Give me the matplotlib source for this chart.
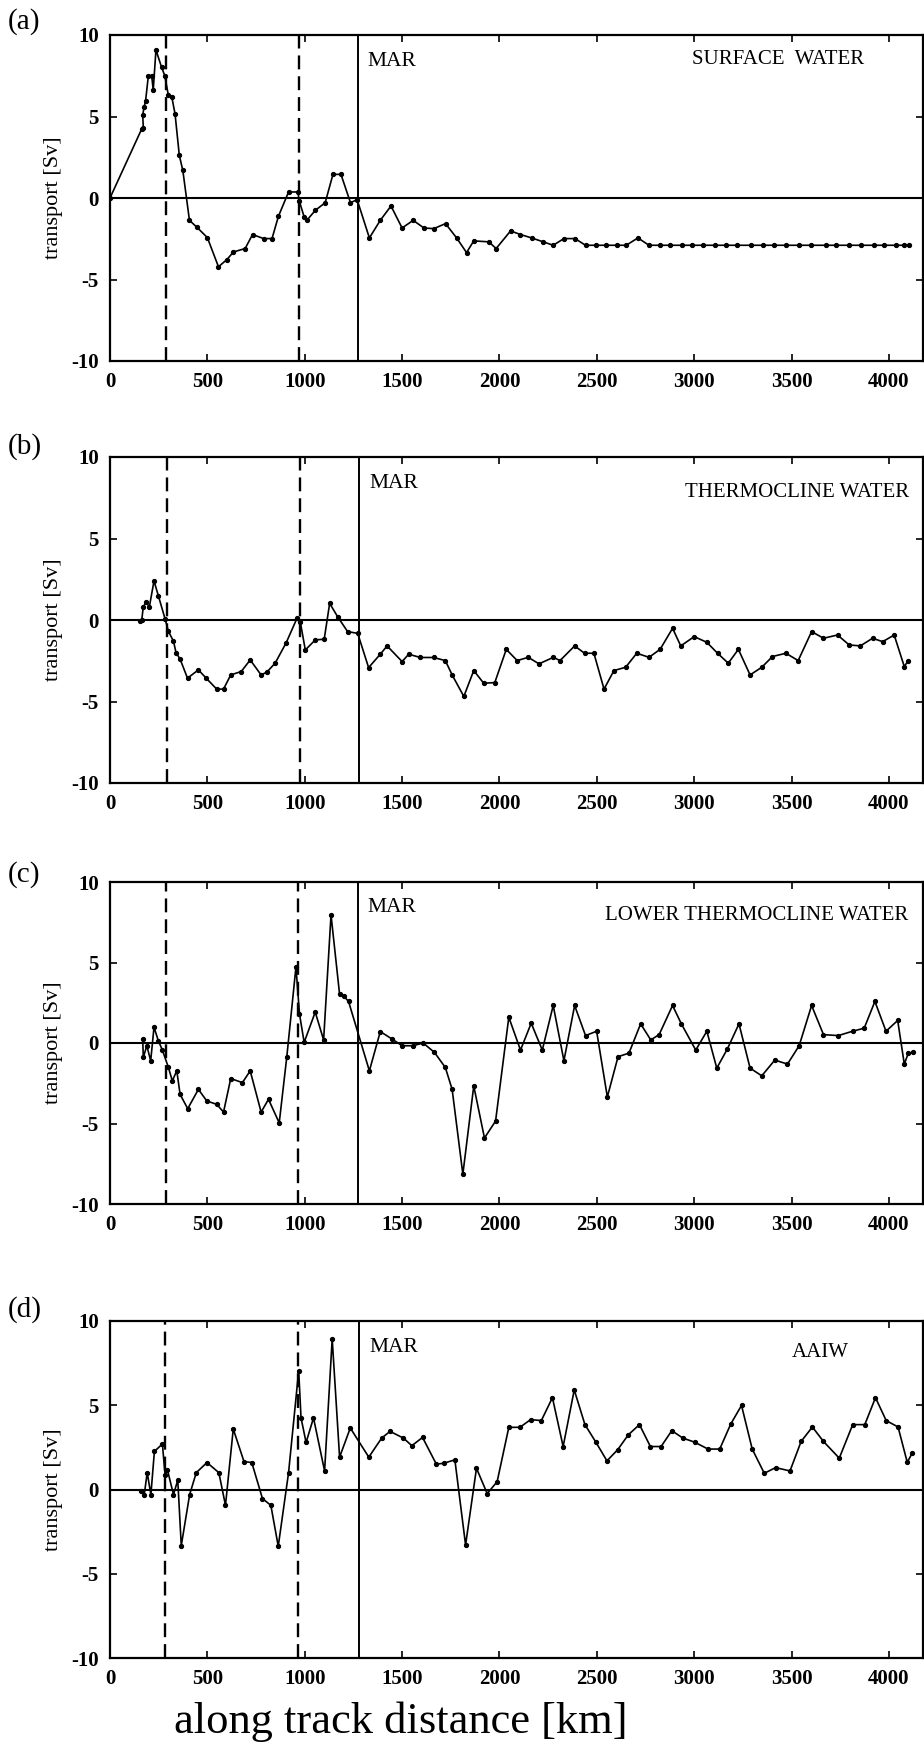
import numpy as np
import matplotlib
matplotlib.use("Agg")
import matplotlib.pyplot as plt

plt.rcParams["font.family"] = ["Liberation Serif", "DejaVu Serif"]
plt.rcParams["axes.unicode_minus"] = False
plt.rcParams["lines.scale_dashes"] = False

# (a) surface water
sw_km = [0, 163, 171, 168, 175, 183, 197, 214, 222, 236, 265, 281, 300, 317, 334,
         356, 374, 408, 445, 500, 557, 600, 634, 694, 732, 789, 832, 865, 917, 965,
         972, 997, 1011, 1054, 1105, 1145, 1186, 1235, 1269, 1332, 1388, 1443, 1500,
         1557, 1612, 1663, 1723, 1780, 1831, 1868, 1945, 1983, 2057, 2108, 2165, 2225,
         2276, 2331, 2388, 2442, 2494, 2545, 2605, 2651, 2711, 2768, 2824, 2876, 2936,
         2990, 3047, 3106, 3162, 3219, 3294, 3351, 3410, 3470, 3539, 3599, 3676, 3728,
         3796, 3856, 3921, 3976, 4036, 4079, 4105]
sw_sv = [0, 4.24, 4.3, 5.1, 5.57, 5.98, 7.51, 7.51, 6.63, 9.08, 8.02, 7.51, 6.29, 6.22, 5.16,
         2.61, 1.69, -1.37, -1.78, -2.43, -4.22, -3.78, -3.31, -3.1, -2.24, -2.49, -2.49, -1.12, 0.37, 0.37,
         -0.18, -1.16, -1.37, -0.76, -0.29, 1.45, 1.45, -0.29, -0.1, -2.45, -1.37, -0.49, -1.84,
         -1.37, -1.84, -1.88, -1.57, -2.45, -3.35, -2.63, -2.69, -3.1, -2.02, -2.24, -2.45, -2.69,
         -2.9, -2.49, -2.49, -2.9, -2.9, -2.9, -2.9, -2.9, -2.45, -2.9, -2.9, -2.9, -2.9,
         -2.9, -2.9, -2.9, -2.9, -2.9, -2.9, -2.9, -2.9, -2.9, -2.9, -2.9, -2.9, -2.9,
         -2.9, -2.9, -2.9, -2.9, -2.9, -2.9, -2.9]

# (b) thermocline water
tw_km = [154, 163, 171, 185, 202, 226, 248, 283, 300, 326, 339, 360, 398, 454, 494, 548,
         583, 620, 674, 720, 776, 805, 848, 905, 960, 977, 1003, 1054, 1100, 1128, 1169,
         1220, 1272, 1328, 1388, 1423, 1500, 1534, 1594, 1662, 1722, 1757, 1817, 1868,
         1919, 1976, 2035, 2091, 2148, 2203, 2277, 2311, 2386, 2437, 2485, 2537, 2588,
         2648, 2705, 2768, 2825, 2889, 2931, 3000, 3065, 3120, 3175, 3227, 3287, 3347,
         3402, 3471, 3534, 3603, 3664, 3736, 3796, 3853, 3916, 3968, 4027, 4079, 4099]
tw_sv = [-0.06, 0.0, 0.8, 1.1, 0.8, 2.4, 1.5, 0.06, -0.7, -1.3, -2.0, -2.4, -3.57, -3.06, -3.57, -4.24,
         -4.24, -3.37, -3.16, -2.45, -3.37, -3.2, -2.65, -1.39, 0.1, -0.1, -1.84, -1.22, -1.18, 1.02, 0.2,
         -0.71, -0.82, -2.92, -2.1, -1.59, -2.55, -2.1, -2.3, -2.3, -2.49, -3.37, -4.69, -3.1,
         -3.88, -3.84, -1.8, -2.49, -2.29, -2.69, -2.29, -2.49, -1.59, -2.04, -2.04, -4.24, -3.1,
         -2.9, -2.04, -2.29, -1.8, -0.51, -1.59, -1.02, -1.37, -2.04, -2.65, -1.8, -3.37, -2.9,
         -2.24, -2.04, -2.49, -0.71, -1.12, -0.92, -1.53, -1.59, -1.12, -1.33, -0.92, -2.86, -2.49]

# (c) lower thermocline water
ltw_km = [168, 171, 189, 209, 226, 248, 269, 300, 320, 343, 360, 399, 454, 497, 548, 583,
          620, 680, 720, 776, 814, 869, 908, 955, 973, 997, 1054, 1097, 1135, 1179, 1200,
          1225, 1332, 1388, 1448, 1500, 1556, 1608, 1666, 1722, 1757, 1812, 1868, 1923,
          1980, 2048, 2108, 2163, 2220, 2276, 2331, 2386, 2442, 2499, 2554, 2609, 2665,
          2725, 2777, 2820, 2889, 2934, 3008, 3065, 3116, 3170, 3230, 3287, 3347, 3414,
          3479, 3539, 3603, 3664, 3740, 3813, 3873, 3928, 3985, 4045, 4079, 4099, 4122]
ltw_sv = [0.25, -0.9, -0.17, -1.1, 0.98, 0.15, -0.44, -1.52, -2.35, -1.73, -3.19, -4.08, -2.88, -3.6, -3.81, -4.29,
          -2.21, -2.46, -1.73, -4.29, -3.5, -4.96, -0.85, 4.73, 1.81, 0.04, 1.92, 0.19, 7.96, 3.02, 2.92,
          2.58, -1.73, 0.71, 0.25, -0.17, -0.17, 0.0, -0.58, -1.52, -2.88, -8.15, -2.67, -5.9,
          -4.85, 1.6, -0.44, 1.23, -0.44, 2.33, -1.1, 2.33, 0.46, 0.73, -3.35, -0.85, -0.63,
          1.19, 0.19, 0.52, 2.33, 1.19, -0.44, 0.73, -1.56, -0.38, 1.19, -1.56, -2.04, -1.06,
          -1.31, -0.17, 2.33, 0.52, 0.46, 0.73, 0.92, 2.58, 0.73, 1.4, -1.31, -0.65, -0.58]

# (d) AAIW
aaiw_km = [159, 176, 191, 210, 228, 269, 283, 295, 326, 348, 366, 409, 443, 498, 559, 593,
           633, 688, 728, 783, 826, 864, 917, 969, 981, 1007, 1045, 1102, 1141, 1179, 1234,
           1329, 1395, 1438, 1507, 1550, 1605, 1676, 1714, 1771, 1826, 1882, 1937, 1988,
           2048, 2105, 2160, 2215, 2272, 2327, 2384, 2439, 2495, 2552, 2607, 2662, 2719,
           2775, 2830, 2885, 2942, 3002, 3071, 3131, 3188, 3243, 3298, 3360, 3418, 3492,
           3549, 3607, 3664, 3745, 3814, 3876, 3931, 3986, 4047, 4094, 4120]
aaiw_sv = [-0.08, -0.3, 1.0, -0.3, 2.26, 2.7, 0.86, 1.16, -0.3, 0.56, -3.33, -0.3, 1.0, 1.6, 1.0, -0.94,
           3.59, 1.66, 1.6, -0.54, -0.94, -3.37, 1.0, 7.05, 4.25, 2.79, 4.25, 1.1, 8.94, 1.92, 3.65,
           1.92, 3.05, 3.45, 3.05, 2.6, 3.09, 1.5, 1.56, 1.76, -3.29, 1.26, -0.24, 0.46,
           3.69, 3.69, 4.15, 4.09, 5.45, 2.55, 5.91, 3.85, 2.81, 1.7, 2.36, 3.25, 3.85,
           2.55, 2.55, 3.49, 3.05, 2.81, 2.4, 2.4, 3.89, 4.99, 2.4, 0.96, 1.3, 1.1,
           2.85, 3.71, 2.85, 1.86, 3.85, 3.85, 5.45, 4.09, 3.71, 1.62, 2.16]

# boundaries: dashed lines and Mid-Atlantic Ridge
dashed_km = [[288, 972], [295, 977], [288, 968], [280, 965]]
mar_km = [1273, 1280, 1273, 1280]

panel_tags = ["(a)", "(b)", "(c)", "(d)"]
water_names = ["SURFACE  WATER", "THERMOCLINE WATER", "LOWER THERMOCLINE WATER", "AAIW"]
x_ticks = [0, 500, 1000, 1500, 2000, 2500, 3000, 3500, 4000]
y_ticks = [-10, -5, 0, 5, 10]

series = [(sw_km, sw_sv), (tw_km, tw_sv), (ltw_km, ltw_sv), (aaiw_km, aaiw_sv)]

W, H = 924, 1752
fig = plt.figure(figsize=(W / 100, H / 100), dpi=100)

# axes boxes in pixels: (top, bottom)
boxes = [(35, 361), (457, 783), (882, 1204), (1321, 1658)]
tag_y = [22, 447, 875, 1310]
name_pos = [(2990, 8.5, "left"), (4103, 7.85, "right"), (4098, 7.9, "right"), (3650, 8.15, "center")]

for i, (km, sv) in enumerate(series):
    top, bot = boxes[i]
    ax = fig.add_axes([110 / W, 1 - bot / H, 813 / W, (bot - top) / H])
    ax.set_xlim(0, 4175)
    ax.set_ylim(-10, 10)

    ax.axhline(0, color="black", lw=1.5)
    for xd in dashed_km[i]:
        ax.axvline(xd, color="black", lw=1.7, linestyle=(0, (10, 5)))
    ax.axvline(mar_km[i], color="black", lw=1.4)

    ax.plot(km, sv, color="black", lw=1.2, marker="o", markersize=2.8)

    ax.text(mar_km[i] + 50, 8.4, "MAR", fontsize=15.5, va="center", ha="left")
    nx, ny, nha = name_pos[i]
    ax.text(nx, ny, water_names[i], fontsize=15, va="center", ha=nha)

    ax.set_xticks(x_ticks)
    ax.set_yticks(y_ticks)
    ax.tick_params(direction="in", top=True, right=True, length=5, width=1.2,
                   labelsize=15, pad=8)
    for lab in ax.get_xticklabels() + ax.get_yticklabels():
        lab.set_fontweight("bold")
    for sp in ax.spines.values():
        sp.set_linewidth(1.6)

    ax.set_ylabel("transport [Sv]", fontsize=16)
    ax.yaxis.set_label_coords(-0.058, 0.5)

    fig.text(8 / W, 1 - tag_y[i] / H, panel_tags[i], fontsize=21, va="center", ha="left")

fig.text(401 / W, 1 - 1722 / H, "along track distance [km]", fontsize=32, ha="center", va="center")

fig.savefig("out.png", dpi=100)
